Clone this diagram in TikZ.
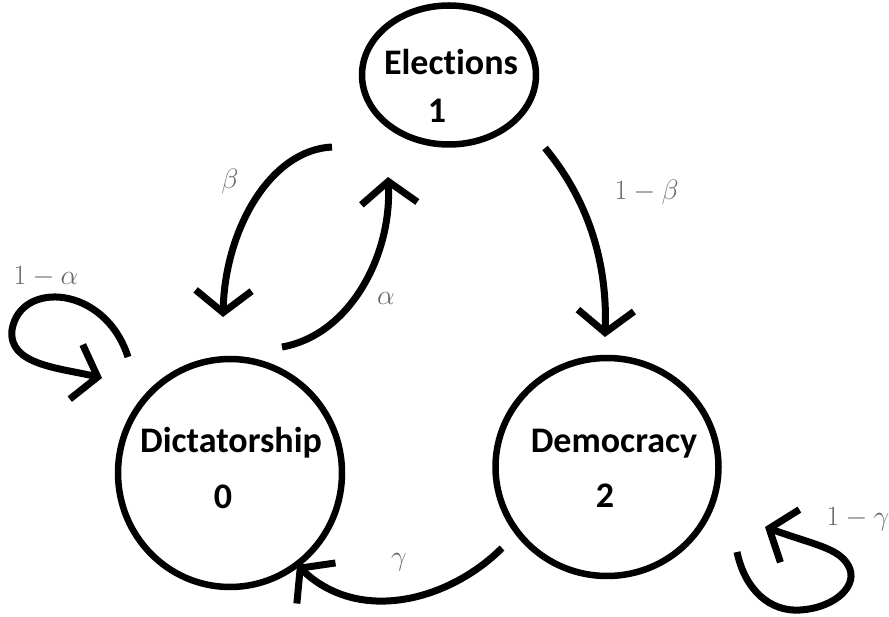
\RequirePackage{fix-cm}
\documentclass[tikz,border=0pt]{standalone}
\usepackage{fontspec}
\setmainfont{Carlito}[Ligatures=NoCommon]
\usepackage{tikz}
\usetikzlibrary{arrows.meta,shapes.geometric}
\definecolor{probgray}{RGB}{105,105,105}

\begin{document}
\begin{tikzpicture}[x=1pt,y=-1pt,
  stateshape/.style={draw, ellipse, line width=6.5pt, inner sep=0pt},
  statetext/.style={anchor=base, font=\bfseries\fontsize{36}{40}\selectfont},
  trans/.style={line width=7pt, -{Straight Barb[length=22pt,width=56pt]}},
  prob/.style={anchor=base, text=probgray, font=\fontsize{28}{32}\selectfont}]
 \useasboundingbox (0,0) rectangle (889,617);
 % states
 \node[stateshape, minimum width=174pt, minimum height=139pt] (elec) at (449,75) {};
 \node[stateshape, minimum width=224pt, minimum height=228pt] (dict) at (230,473) {};
 \node[stateshape, minimum width=223pt, minimum height=218pt] (demo) at (607,467) {};
 \node[statetext] (elecT) at (451,75) {Elections};
 \node[statetext] (elecN) at (437,123) {1};
 \node[statetext] (dictT) at (231,452) {Dictatorship};
 \node[statetext] (dictN) at (223,508) {0};
 \node[statetext] (demoT) at (614,453) {Democracy};
 \node[statetext] (demoN) at (605,507) {2};
 % loose ends of the hand drawn arrows
 \coordinate (beta0) at (332,147);  \coordinate (beta1) at (223,317);
 \coordinate (alpha0) at (282,347); \coordinate (alpha1) at (388,177);
 \coordinate (mbeta0) at (545,148); \coordinate (mbeta1) at (605,337);
 \coordinate (gam0) at (502,548);   \coordinate (gam1) at (297,565);
 \coordinate (malpha0) at (128,357); \coordinate (malpha1) at (102,378);
 \coordinate (mgam0) at (737,552);  \coordinate (mgam1) at (765,527);
 % elections -> dictatorship / democracy
 \draw[trans] (beta0) .. controls (270,150) and (225,230) .. (beta1);
 \draw[trans] (mbeta0) .. controls (580,190) and (608,250) .. (mbeta1);
 % dictatorship -> elections
 \draw[trans] (alpha0) .. controls (350,335) and (392,255) .. (alpha1);
 % democracy -> dictatorship
 \draw[trans] (gam0) .. controls (450,600) and (360,625) .. (gam1);
 % self loops
 \draw[trans] (malpha0) .. controls (105,285) and (20,280) .. (12,330)
      .. controls (8,365) and (60,368) .. (malpha1);
 \draw[trans] (mgam0) .. controls (745,590) and (770,612) .. (800,610)
      .. controls (835,608) and (860,585) .. (848,565)
      .. controls (838,548) and (815,545) .. (mgam1);
 % probabilities
 \node[prob] (pb) at (230,189) {$\beta$};
 \node[prob] (pa) at (386,305) {$\alpha$};
 \node[prob] (pg) at (399,565) {$\gamma$};
 \node[prob, anchor=base west] (pmb) at (611,200) {$1-\beta$};
 \node[prob, anchor=base west] (pma) at (10,285) {$1-\alpha$};
 \node[prob, anchor=base west] (pmg) at (823,525) {$1-\gamma$};
\end{tikzpicture}
\end{document}
